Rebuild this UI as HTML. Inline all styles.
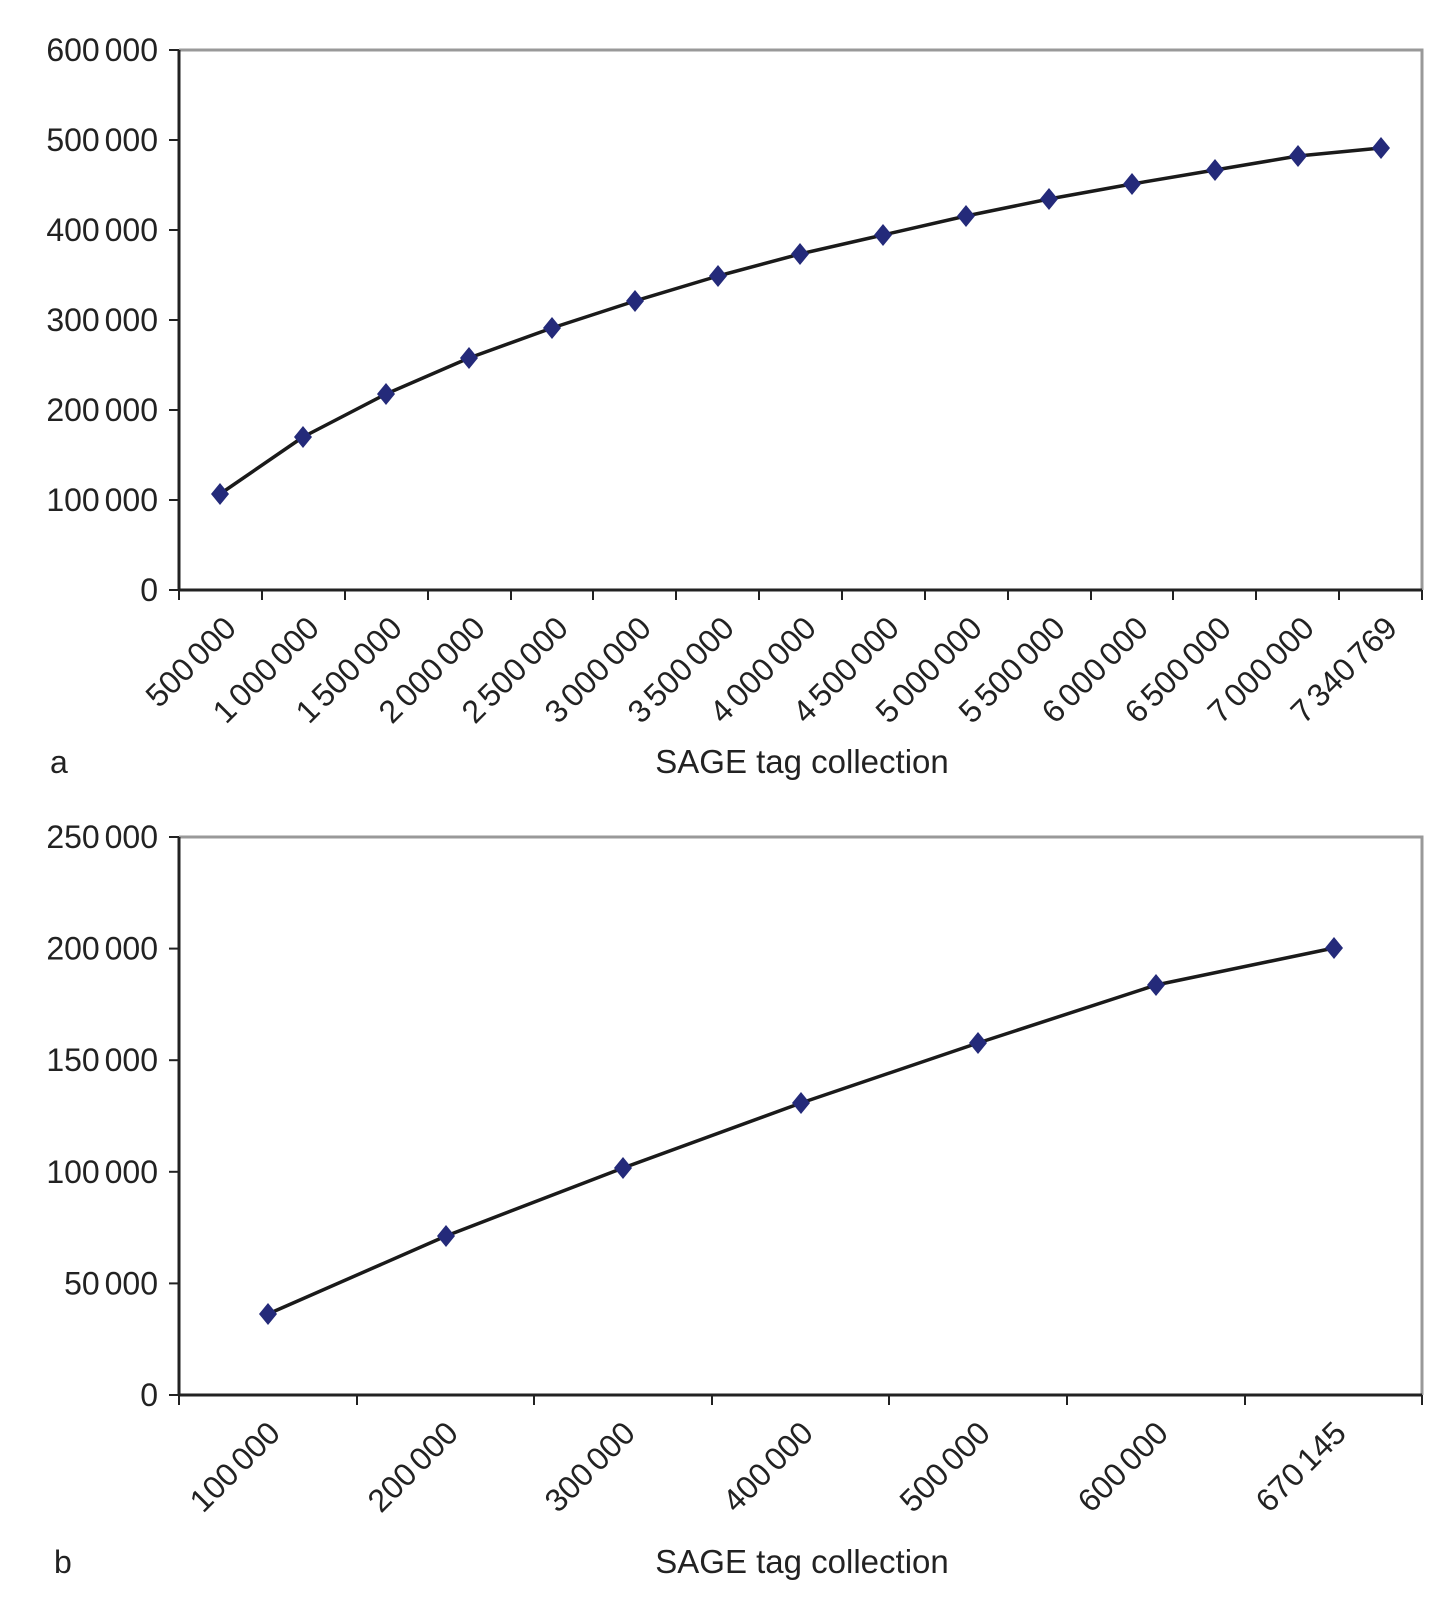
<!DOCTYPE html>
<html><head><meta charset="utf-8"><style>
html,body{margin:0;padding:0;background:#fff}
svg{display:block}
text{font-family:"Liberation Sans",Arial,sans-serif;fill:#222}
</style></head><body>
<svg width="1456" height="1599" viewBox="0 0 1456 1599" xmlns="http://www.w3.org/2000/svg">
<defs><path id="d" d="M0,-11 L9,0 L0,11 L-9,0Z" fill="#242a7a"/></defs>
<!-- Panel a -->
<g>
<polyline points="179,50 1422,50 1422,590" fill="none" stroke="#999" stroke-width="3"/>
<line x1="179" y1="50" x2="179" y2="590" stroke="#222" stroke-width="3"/>
<line x1="179" y1="590" x2="1422" y2="590" stroke="#222" stroke-width="3"/>
<g stroke="#222" stroke-width="2">
<line x1="169" y1="50" x2="179" y2="50"/><line x1="169" y1="140" x2="179" y2="140"/><line x1="169" y1="230" x2="179" y2="230"/><line x1="169" y1="320" x2="179" y2="320"/><line x1="169" y1="410" x2="179" y2="410"/><line x1="169" y1="500" x2="179" y2="500"/><line x1="169" y1="590" x2="179" y2="590"/>
<line x1="179" y1="590" x2="179" y2="600"/><line x1="262" y1="590" x2="262" y2="600"/><line x1="345" y1="590" x2="345" y2="600"/><line x1="428" y1="590" x2="428" y2="600"/><line x1="511" y1="590" x2="511" y2="600"/><line x1="593" y1="590" x2="593" y2="600"/><line x1="676" y1="590" x2="676" y2="600"/><line x1="759" y1="590" x2="759" y2="600"/><line x1="842" y1="590" x2="842" y2="600"/><line x1="925" y1="590" x2="925" y2="600"/><line x1="1008" y1="590" x2="1008" y2="600"/><line x1="1091" y1="590" x2="1091" y2="600"/><line x1="1173" y1="590" x2="1173" y2="600"/><line x1="1256" y1="590" x2="1256" y2="600"/><line x1="1339" y1="590" x2="1339" y2="600"/><line x1="1422" y1="590" x2="1422" y2="600"/>
</g>
<g font-size="32" text-anchor="end" word-spacing="-4">
<text x="158" y="61">600 000</text><text x="158" y="151">500 000</text><text x="158" y="241">400 000</text><text x="158" y="331">300 000</text><text x="158" y="421">200 000</text><text x="158" y="511">100 000</text><text x="158" y="601">0</text>
</g>
<g font-size="32" text-anchor="end" word-spacing="-4">
<text transform="translate(238,630) rotate(-45)">500 000</text>
<text transform="translate(321,630) rotate(-45)">1 000 000</text>
<text transform="translate(404,630) rotate(-45)">1 500 000</text>
<text transform="translate(487,630) rotate(-45)">2 000 000</text>
<text transform="translate(570,630) rotate(-45)">2 500 000</text>
<text transform="translate(653,630) rotate(-45)">3 000 000</text>
<text transform="translate(736,630) rotate(-45)">3 500 000</text>
<text transform="translate(818,630) rotate(-45)">4 000 000</text>
<text transform="translate(901,630) rotate(-45)">4 500 000</text>
<text transform="translate(984,630) rotate(-45)">5 000 000</text>
<text transform="translate(1067,630) rotate(-45)">5 500 000</text>
<text transform="translate(1150,630) rotate(-45)">6 000 000</text>
<text transform="translate(1233,630) rotate(-45)">6 500 000</text>
<text transform="translate(1316,630) rotate(-45)">7 000 000</text>
<text transform="translate(1399,630) rotate(-45)">7 340 769</text>
</g>
<polyline fill="none" stroke="#1a1a1a" stroke-width="3.5" stroke-linejoin="round" points="220,494 303,437 386,394 469,358 552,328 635,301 718,276 800,254 883,235 966,216 1049,199 1132,184 1215,170 1298,156 1381,148"/>
<g>
<use href="#d" x="220" y="494"/><use href="#d" x="303" y="437"/><use href="#d" x="386" y="394"/><use href="#d" x="469" y="358"/><use href="#d" x="552" y="328"/><use href="#d" x="635" y="301"/><use href="#d" x="718" y="276"/><use href="#d" x="800" y="254"/><use href="#d" x="883" y="235"/><use href="#d" x="966" y="216"/><use href="#d" x="1049" y="199"/><use href="#d" x="1132" y="184"/><use href="#d" x="1215" y="170"/><use href="#d" x="1298" y="156"/><use href="#d" x="1381" y="148"/>
</g>
<text x="50" y="773" font-size="32">a</text>
<text x="802" y="773" font-size="33" text-anchor="middle">SAGE tag collection</text>
</g>
<!-- Panel b -->
<g>
<polyline points="179,837 1422,837 1422,1395" fill="none" stroke="#999" stroke-width="3"/>
<line x1="179" y1="837" x2="179" y2="1395" stroke="#222" stroke-width="3"/>
<line x1="179" y1="1395" x2="1422" y2="1395" stroke="#222" stroke-width="3"/>
<g stroke="#222" stroke-width="2">
<line x1="169" y1="837" x2="179" y2="837"/><line x1="169" y1="948.6" x2="179" y2="948.6"/><line x1="169" y1="1060.2" x2="179" y2="1060.2"/><line x1="169" y1="1171.8" x2="179" y2="1171.8"/><line x1="169" y1="1283.4" x2="179" y2="1283.4"/><line x1="169" y1="1395" x2="179" y2="1395"/>
<line x1="179" y1="1395" x2="179" y2="1405"/><line x1="357" y1="1395" x2="357" y2="1405"/><line x1="534" y1="1395" x2="534" y2="1405"/><line x1="712" y1="1395" x2="712" y2="1405"/><line x1="889" y1="1395" x2="889" y2="1405"/><line x1="1067" y1="1395" x2="1067" y2="1405"/><line x1="1245" y1="1395" x2="1245" y2="1405"/><line x1="1422" y1="1395" x2="1422" y2="1405"/>
</g>
<g font-size="32" text-anchor="end" word-spacing="-4">
<text x="158" y="848">250 000</text><text x="158" y="959.6">200 000</text><text x="158" y="1071.2">150 000</text><text x="158" y="1182.8">100 000</text><text x="158" y="1294.4">50 000</text><text x="158" y="1406">0</text>
</g>
<g font-size="32" text-anchor="end" word-spacing="-4">
<text transform="translate(282,1435) rotate(-45)">100 000</text>
<text transform="translate(460,1435) rotate(-45)">200 000</text>
<text transform="translate(637,1435) rotate(-45)">300 000</text>
<text transform="translate(815,1435) rotate(-45)">400 000</text>
<text transform="translate(992,1435) rotate(-45)">500 000</text>
<text transform="translate(1170,1435) rotate(-45)">600 000</text>
<text transform="translate(1348,1435) rotate(-45)">670 145</text>
</g>
<polyline fill="none" stroke="#1a1a1a" stroke-width="3.5" stroke-linejoin="round" points="268,1314 446,1236 623,1168 801,1103 978,1043 1156,985 1334,948"/>
<g>
<use href="#d" x="268" y="1314"/><use href="#d" x="446" y="1236"/><use href="#d" x="623" y="1168"/><use href="#d" x="801" y="1103"/><use href="#d" x="978" y="1043"/><use href="#d" x="1156" y="985"/><use href="#d" x="1334" y="948"/>
</g>
<text x="54" y="1573" font-size="32">b</text>
<text x="802" y="1573" font-size="33" text-anchor="middle">SAGE tag collection</text>
</g>
</svg>
</body></html>
